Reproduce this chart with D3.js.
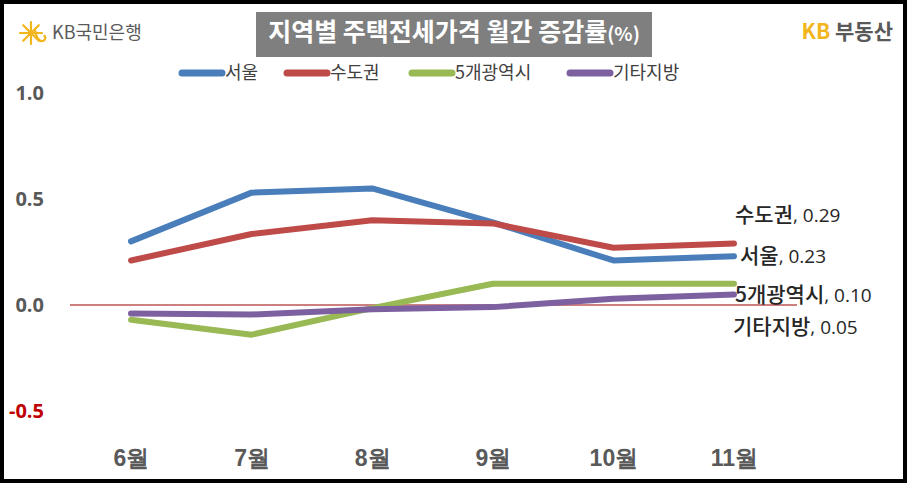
<!DOCTYPE html>
<html><head><meta charset="utf-8">
<script src="https://cdn.jsdelivr.net/npm/d3@7"></script>
<style>
body{margin:0;background:#fff;}
svg{display:block;font-family:"Noto Sans CJK KR","Noto Sans",sans-serif;}
</style></head>
<body>
<svg id="c" width="907" height="483"></svg>
<script>
const months = ["6월","7월","8월","9월","10월","11월"];
const seriesNames = ["서울","수도권","5개광역시","기타지방"];
const seoul   = [0.30, 0.53, 0.55, 0.39, 0.21, 0.23];
const capital = [0.21, 0.335, 0.40, 0.385, 0.27, 0.29];
const metro5  = [-0.07, -0.14, -0.015, 0.10, 0.10, 0.10];
const others  = [-0.04, -0.045, -0.02, -0.01, 0.03, 0.05];
const yTicks = [1.0, 0.5, 0.0, -0.5];
const endLabels = ["서울, 0.23","수도권, 0.29","5개광역시, 0.10","기타지방, 0.05"];
const colors = ["#4a7ebb","#be4b48","#98b954","#7d60a0"];

const data = [seoul, capital, metro5, others];
const svg = d3.select("#c");
const W = 907, H = 483;

// frame
svg.append("rect").attr("x",2).attr("y",2).attr("width",W-4).attr("height",H-4)
  .attr("fill","#fff").attr("stroke","#000").attr("stroke-width",4);

const x = d3.scalePoint().domain(months).range([131, 734]);
const y = d3.scaleLinear().domain([-0.5, 1.0]).range([411, 93]);

// y axis labels
const fmt = d => d3.format(".1f")(d).replace("−","-");
const yAxis = d3.axisLeft(y).tickValues(yTicks).tickFormat(fmt).tickSize(0).tickPadding(0);
const ga = svg.append("g").attr("transform","translate(44,0)").call(yAxis);
ga.select(".domain").remove();
ga.selectAll("text").attr("font-size",20).attr("font-weight","bold")
  .attr("font-family","'Open Sans','Noto Sans',sans-serif")
  .attr("fill", d => d < 0 ? "#c00000" : "#595959");

// zero line
svg.append("line").attr("x1",70).attr("x2",797).attr("y1",y(0)).attr("y2",y(0))
  .attr("stroke","#9b0000").attr("stroke-width",1);

// x axis labels
const xAxis = d3.axisBottom(x).tickSize(0).tickPadding(0);
const gx = svg.append("g").attr("transform","translate(0,446)").call(xAxis);
gx.select(".domain").remove();
gx.selectAll("text").attr("font-size",23).attr("font-weight","bold").attr("fill","#595959")
  .attr("dy","0.35em").attr("y",12);

// lines
const line = d3.line().x((d,i)=>x(months[i])).y(d=>y(d));
data.forEach((s,k)=>{
  svg.append("path").attr("d",line(s)).attr("fill","none").attr("stroke",colors[k])
    .attr("stroke-width",6).attr("stroke-linecap","round").attr("stroke-linejoin","round");
});

// end labels
const labPos = [[740,257],[735,216],[735,296],[733,328]];
endLabels.forEach((t,k)=>{
  const parts = t.split(",");
  const tx = svg.append("text").attr("x",labPos[k][0]).attr("y",labPos[k][1])
    .attr("dy","0.35em").attr("fill","#262626");
  tx.append("tspan").attr("font-size",21).attr("font-weight",500).text(parts[0]);
  tx.append("tspan").attr("font-size",19).attr("font-family","'Open Sans','Noto Sans',sans-serif").text(","+parts[1]);
});

// title
svg.append("rect").attr("x",256).attr("y",12).attr("width",396).attr("height",45).attr("fill","#7f7f7f");
const tt = svg.append("text").attr("x",454).attr("y",35).attr("dy","0.35em").attr("text-anchor","middle")
  .attr("fill","#fff").attr("font-weight","bold");
tt.append("tspan").attr("font-size",25).text("지역별 주택전세가격 월간 증감률");
tt.append("tspan").attr("font-size",19).text("(%)");

// legend
const legX = [180, 285, 410, 568];
seriesNames.forEach((n,k)=>{
  const g = svg.append("g").attr("transform",`translate(${legX[k]},73)`);
  g.append("line").attr("x1",2).attr("x2",42).attr("stroke",colors[k]).attr("stroke-width",7).attr("stroke-linecap","round");
  g.append("text").attr("x",45).attr("dy","0.35em").attr("font-size",18).attr("fill","#404040").text(n);
});

// KB 국민은행 logo
const lg = svg.append("g").attr("transform","translate(31,33)");
[0,45,90,135].forEach(a=>{
  lg.append("line").attr("x1",-11).attr("x2",11).attr("stroke","#f2b51c").attr("stroke-width",2.2)
    .attr("stroke-linecap","round").attr("transform",`rotate(${a})`);
});
lg.append("path").attr("d","M4,-3 Q6,9 12,8 Q16,6 13,2").attr("fill","none").attr("stroke","#f2b51c").attr("stroke-width",2.2);
svg.append("text").attr("x",52).attr("y",33).attr("dy","0.35em").attr("font-size",18).attr("fill","#5a5a5a").text("KB국민은행");

// KB 부동산 logo
const kb = svg.append("text").attr("x",893).attr("y",32).attr("dy","0.35em").attr("text-anchor","end")
  .attr("font-size",21).attr("font-weight","bold");
kb.append("tspan").attr("fill","#f2b51c").text("KB ");
kb.append("tspan").attr("fill","#595959").text("부동산");
</script>
</body></html>
